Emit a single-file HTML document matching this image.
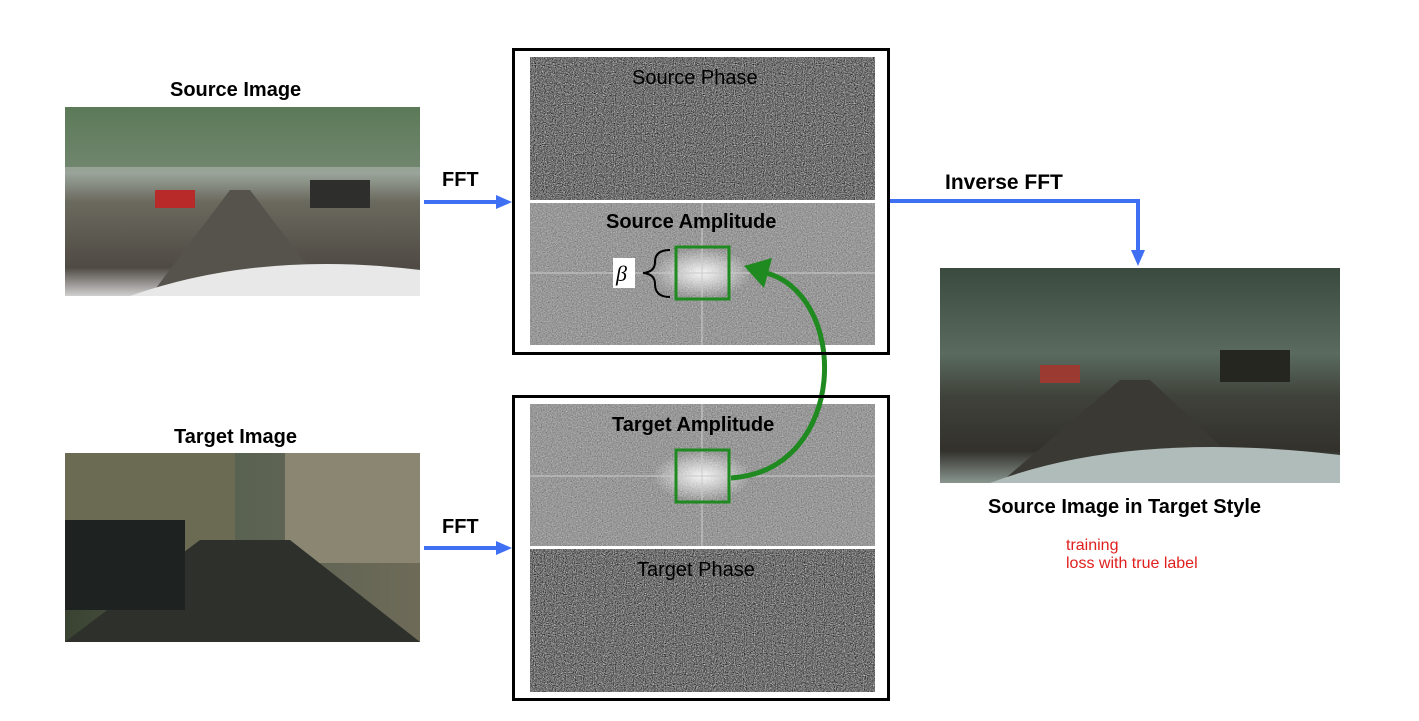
<!DOCTYPE html>
<html><head><meta charset="utf-8"><style>
body{margin:0;width:1419px;height:721px;background:#fff;position:relative;overflow:hidden;font-family:"Liberation Sans",Arial,sans-serif}
.t{position:absolute;font-weight:bold;font-size:20px;color:#000;white-space:nowrap}
.box{position:absolute;border:3px solid #000;box-sizing:border-box}
</style></head><body>
<svg width="1419" height="721" style="position:absolute;left:0;top:0">
<defs>
<filter id="ph" x="0" y="0" width="100%" height="100%" color-interpolation-filters="sRGB"><feTurbulence type="fractalNoise" baseFrequency="0.9" numOctaves="2" seed="3"/><feColorMatrix type="matrix" values="0.33 0.33 0.33 0 0  0.33 0.33 0.33 0 0  0.33 0.33 0.33 0 0  0 0 0 0 1"/><feComponentTransfer><feFuncR type="linear" slope="1.8" intercept="-0.45"/><feFuncG type="linear" slope="1.8" intercept="-0.45"/><feFuncB type="linear" slope="1.8" intercept="-0.45"/></feComponentTransfer></filter>
<filter id="am" x="0" y="0" width="100%" height="100%" color-interpolation-filters="sRGB"><feTurbulence type="fractalNoise" baseFrequency="0.8" numOctaves="2" seed="7"/><feColorMatrix type="matrix" values="0.25 0.25 0.25 0 0.22  0.25 0.25 0.25 0 0.22  0.25 0.25 0.25 0 0.22  0 0 0 0 1"/></filter>
<radialGradient id="glow"><stop offset="0" stop-color="#fff" stop-opacity="0.9"/><stop offset="1" stop-color="#fff" stop-opacity="0"/></radialGradient>
<linearGradient id="src" x1="0" y1="0" x2="0" y2="1"><stop offset="0" stop-color="#6d8a6a"/><stop offset="0.35" stop-color="#9aa49a"/><stop offset="0.5" stop-color="#6b6a5e"/><stop offset="0.85" stop-color="#4f4a44"/><stop offset="1" stop-color="#cfcfcf"/></linearGradient>
<linearGradient id="tgt" x1="0" y1="0" x2="1" y2="0"><stop offset="0" stop-color="#3a4232"/><stop offset="0.5" stop-color="#5a6252"/><stop offset="1" stop-color="#6e6a58"/></linearGradient>
<linearGradient id="res" x1="0" y1="0" x2="0" y2="1"><stop offset="0" stop-color="#3a4a3e"/><stop offset="0.4" stop-color="#5a6a5e"/><stop offset="0.6" stop-color="#3f423a"/><stop offset="0.85" stop-color="#33312c"/><stop offset="1" stop-color="#8a9690"/></linearGradient>
</defs>
<rect x="65" y="107" width="355" height="189" fill="url(#src)"/>
<rect x="65" y="107" width="355" height="60" fill="#4a6a45" opacity="0.5"/>
<polygon points="230,190 250,190 330,296 150,296" fill="#56534c"/>
<rect x="155" y="190" width="40" height="18" fill="#b8292a"/>
<rect x="310" y="180" width="60" height="28" fill="#2e2e2c"/>
<path d="M130 296 Q260 250 420 270 L420 296Z" fill="#e8e8e8"/>
<rect x="65" y="453" width="355" height="189" fill="url(#tgt)"/>
<rect x="65" y="453" width="170" height="100" fill="#6b6a52"/>
<rect x="285" y="453" width="135" height="110" fill="#8a8672"/>
<polygon points="200,540 290,540 420,642 65,642" fill="#2e302c"/>
<rect x="65" y="520" width="120" height="90" fill="#1e2220"/>
<rect x="940" y="268" width="400" height="215" fill="url(#res)"/>
<polygon points="1120,380 1150,380 1260,483 1000,483" fill="#3a3934"/>
<rect x="1040" y="365" width="40" height="18" fill="#9a3a30"/>
<rect x="1220" y="350" width="70" height="32" fill="#25261f"/>
<path d="M990 483 Q1130 430 1340 455 L1340 483Z" fill="#b0bcba"/>
<rect x="530" y="57" width="345" height="143" filter="url(#ph)"/>
<rect x="530" y="203" width="345" height="142" filter="url(#am)"/>
<rect x="530" y="404" width="345" height="142" filter="url(#am)"/>
<rect x="530" y="549" width="345" height="143" filter="url(#ph)"/>
<ellipse cx="702" cy="273" rx="50" ry="25" fill="url(#glow)"/>
<ellipse cx="702" cy="476" rx="50" ry="25" fill="url(#glow)"/>
<line x1="530" y1="273" x2="875" y2="273" stroke="#ccc" stroke-width="1.5" opacity="0.7"/>
<line x1="702" y1="203" x2="702" y2="345" stroke="#ccc" stroke-width="1.5" opacity="0.7"/>
<line x1="530" y1="476" x2="875" y2="476" stroke="#ccc" stroke-width="1.5" opacity="0.7"/>
<line x1="702" y1="404" x2="702" y2="546" stroke="#ccc" stroke-width="1.5" opacity="0.7"/>
<rect x="676" y="247" width="53" height="52" fill="none" stroke="#1f8a1f" stroke-width="3"/>
<rect x="676" y="450" width="53" height="52" fill="none" stroke="#1f8a1f" stroke-width="3"/>
<path d="M731 478 C850 470 850 290 762 272" fill="none" stroke="#1f8a1f" stroke-width="5"/>
<polygon points="744,266 772,258 764,288" fill="#1f8a1f"/>
<rect x="613" y="258" width="22" height="30" fill="#fff"/>
<text x="616" y="281" font-family="Liberation Serif,serif" font-style="italic" font-size="22">β</text>
<path d="M670 250 Q655 250 655 262 Q655 272 643 273 Q655 274 655 284 Q655 297 670 297" fill="none" stroke="#000" stroke-width="2"/>
<g stroke="#3f6ff2" stroke-width="4" fill="none">
<line x1="424" y1="202" x2="500" y2="202"/>
<line x1="424" y1="548" x2="500" y2="548"/>
<polyline points="890,201 1138,201 1138,252"/>
</g>
<g fill="#3f6ff2">
<polygon points="512,202 496,195 496,209"/>
<polygon points="512,548 496,541 496,555"/>
<polygon points="1138,266 1131,250 1145,250"/>
</g>
</svg>
<div class="box" style="left:512px;top:48px;width:378px;height:307px"></div>
<div class="box" style="left:512px;top:395px;width:378px;height:306px"></div>
<div class="t" style="left:170px;top:79px">Source Image</div>
<div class="t" style="left:174px;top:426px">Target Image</div>
<div class="t" style="left:442px;top:169px">FFT</div>
<div class="t" style="left:442px;top:516px">FFT</div>
<div class="t" style="left:945px;top:171px;font-size:21px">Inverse FFT</div>
<div class="t" style="left:988px;top:496px">Source Image in Target Style</div>
<div class="t" style="left:632px;top:67px;font-weight:normal">Source Phase</div>
<div class="t" style="left:606px;top:211px">Source Amplitude</div>
<div class="t" style="left:612px;top:414px">Target Amplitude</div>
<div class="t" style="left:637px;top:559px;font-weight:normal">Target Phase</div>
<div style="position:absolute;left:1066px;top:537px;color:#e0201e;font-size:16px;line-height:18px">training<br>loss with true label</div>
</body></html>
